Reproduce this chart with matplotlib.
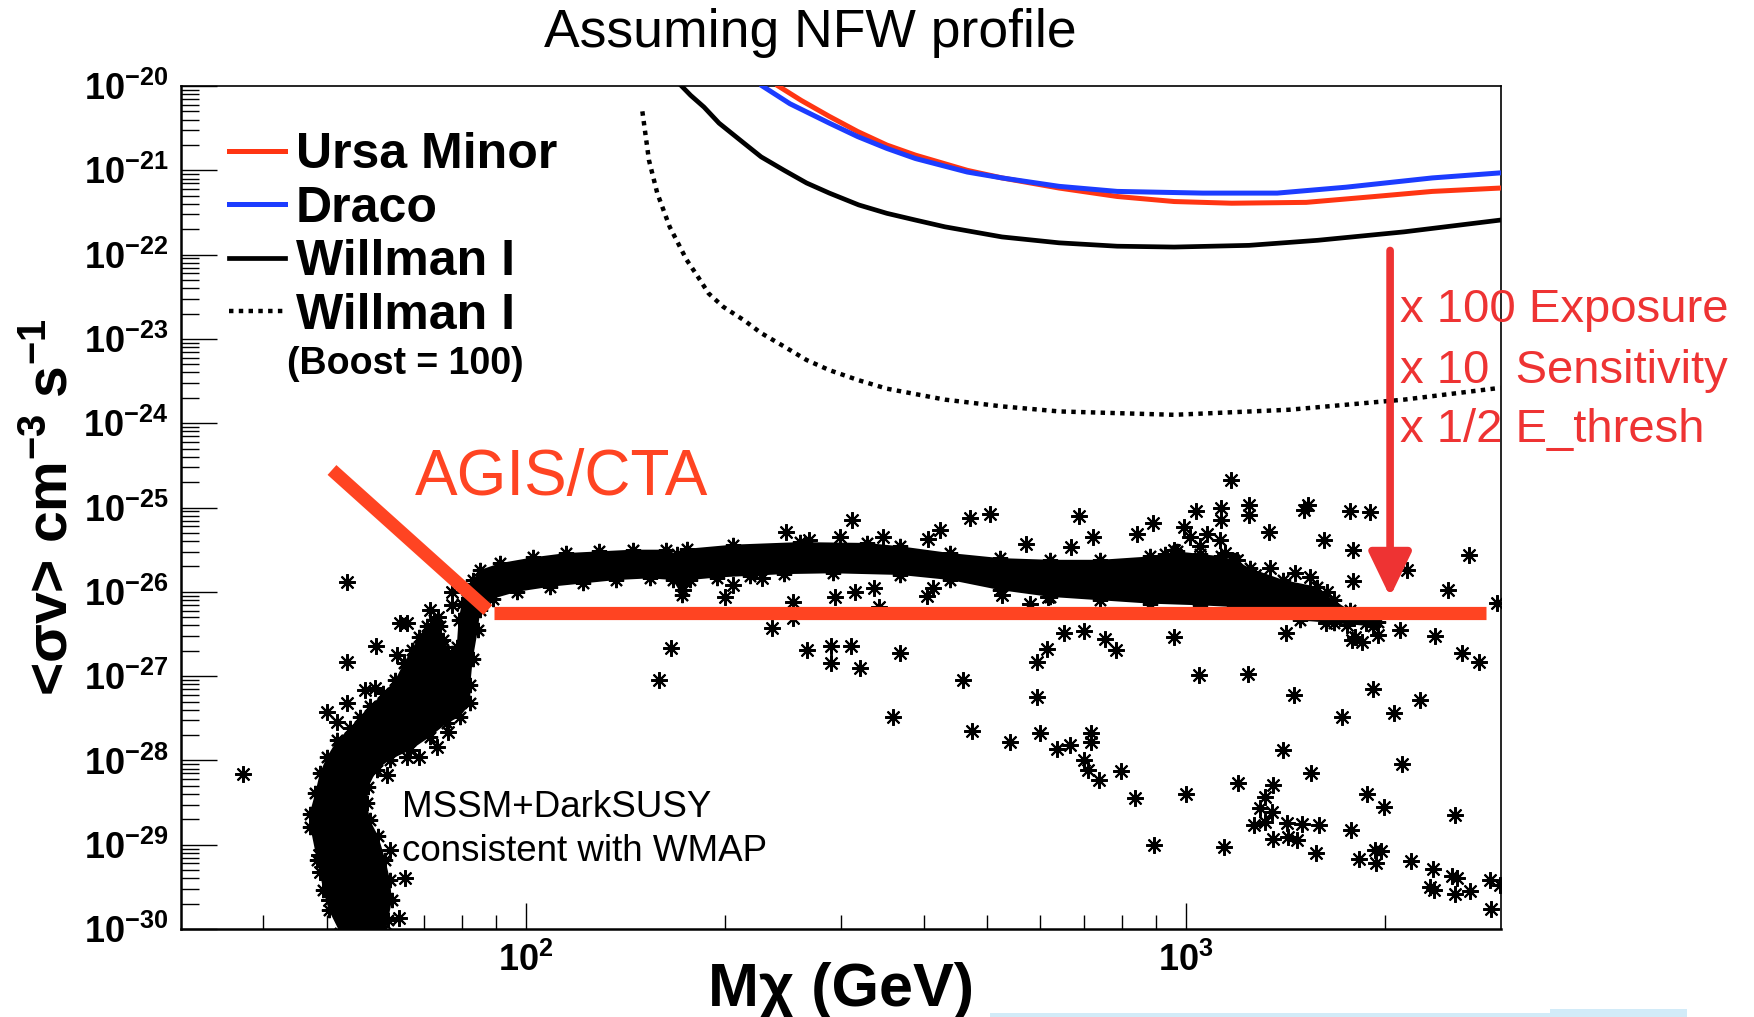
import numpy as np
import matplotlib
matplotlib.use("Agg")
import matplotlib.pyplot as plt
from matplotlib.ticker import NullFormatter
from matplotlib.patches import Rectangle

plt.rcParams['font.family'] = ['Liberation Sans', 'DejaVu Sans']
plt.rcParams['mathtext.fontset'] = 'custom'
plt.rcParams['mathtext.rm'] = 'Liberation Sans:bold'
plt.rcParams['mathtext.it'] = 'Liberation Sans:bold'
plt.rcParams['mathtext.bf'] = 'Liberation Sans:bold'
plt.rcParams['mathtext.default'] = 'bf'

# sensitivity curves: mass in GeV, log10 <sigma v> in cm^3 s^-1
ursa_mass = [241, 261, 288, 318, 352, 389, 466, 526, 642, 786, 959, 1172, 1520, 1933, 2360, 2993]
ursa_logsv = [-20.0, -20.17, -20.36, -20.54, -20.70, -20.82, -21.00, -21.09, -21.21, -21.31,
              -21.37, -21.39, -21.38, -21.31, -21.25, -21.21]
draco_mass = [228, 251, 288, 318, 352, 389, 466, 526, 642, 786, 1060, 1374, 1747, 2360, 2993]
draco_logsv = [-20.0, -20.21, -20.44, -20.60, -20.74, -20.86, -21.02, -21.09, -21.19, -21.25,
               -21.27, -21.27, -21.20, -21.09, -21.03]
willman_mass = [172, 177.5, 186, 196, 214, 227, 246, 266, 288, 319, 352, 389, 431, 526, 642,
                786, 959, 1245, 1582, 2138, 2993]
willman_logsv = [-20.0, -20.11, -20.25, -20.44, -20.68, -20.84, -21.00, -21.15, -21.27, -21.41,
                 -21.51, -21.59, -21.67, -21.79, -21.86, -21.90, -21.91, -21.89, -21.83, -21.73,
                 -21.59]
boost_mass = [150, 153.5, 158, 165, 175, 182, 189, 199, 214, 227, 246, 266, 288, 319, 352, 431,
              526, 642, 959, 1432, 2138, 2993]
boost_logsv = [-20.30, -20.88, -21.27, -21.67, -22.06, -22.26, -22.46, -22.62, -22.78, -22.93,
               -23.09, -23.25, -23.37, -23.49, -23.59, -23.72, -23.80, -23.86, -23.90, -23.84,
               -23.72, -23.58]

# AGIS/CTA projected reach
agis_diag_mass = [50.8, 87.5]
agis_diag_sv = [2.79e-25, 6.08e-27]
agis_flat_mass = [89.4, 2844]
agis_flat_sv = [5.65e-27, 5.65e-27]

# improvement arrow
arrow_mass = 2037
arrow_from = 1.12e-22
arrow_to = 8.7e-27

# outline of the dense MSSM+DarkSUSY region (mass GeV, log10 sv)
band_mass = [52.3, 50.2, 49.3, 48.2, 47.1, 47.0, 47.9, 48.7, 49.9, 51.7, 54.1, 56.0, 58.0, 60.8,
             63.3, 65.2, 67.1, 68.7, 70.7, 72.4, 74.1, 74.9, 77.2, 78.5, 79.0, 79.9, 81.3, 83.2,
             85.2, 91.3, 102.6, 115, 129, 145, 163, 169, 175, 206, 260, 328, 369, 439, 523, 622,
             741, 882, 930, 968, 1050, 1130, 1180, 1250, 1404, 1578, 1672, 1772, 1922, 1950,
             1922, 1672, 1489, 1325, 1180, 1050, 882, 741, 622, 523, 439, 369, 292, 245.5, 218.5,
             194.5, 177, 172, 167, 154, 137, 122, 108.7, 96.8, 89.2, 85.2,
             84.5, 83.0, 82.3, 82.3, 79.4, 75.8, 71.5, 66.7, 62.2, 59.4, 57.7, 57.4, 58.0, 59.7,
             61.2, 62.2, 62.6, 61.8, 61.2]
band_logsv = [-30.05, -29.77, -29.54, -29.18, -28.79, -28.63, -28.39, -28.15, -27.96, -27.76,
              -27.62, -27.48, -27.36, -27.20, -27.05, -26.85, -26.69, -26.53, -26.41, -26.33,
              -26.41, -26.57, -26.73, -26.65, -26.33, -26.14, -25.98, -25.86,
              -25.74, -25.66, -25.59, -25.54, -25.52, -25.50, -25.50, -25.55, -25.49, -25.44,
              -25.41, -25.42, -25.46, -25.54, -25.60, -25.62, -25.62, -25.58, -25.55, -25.52,
              -25.55, -25.58, -25.62, -25.72, -25.86, -25.94, -26.10, -26.22, -26.30, -26.36,
              -26.41, -26.37, -26.34, -26.22, -26.18, -26.16, -26.14, -26.10, -26.06, -25.98,
              -25.86, -25.80, -25.78, -25.79, -25.81, -25.83, -25.86, -26.04, -25.86, -25.84,
              -25.86, -25.90, -25.94, -26.00, -26.08, -26.22,
              -26.45, -26.80, -27.10, -27.32, -27.48, -27.56, -27.72, -27.88, -27.99, -28.11,
              -28.31, -28.51, -28.71, -28.90, -29.18, -29.42, -29.66, -29.89, -30.05]

# individual MSSM models outside the dense region (mass GeV, log10 sv)
mssm_mass = [37.2, 53.5, 53.5, 59.3, 63.7, 64.4, 65.9, 71.5, 73.6, 74.5, 77.2, 77.2, 49.9, 51.7,
             53.5, 57.0, 59.0, 65.9, 68.7, 73.2, 76.2, 61.5, 48.5, 48.7, 50.2, 62.2, 65.6, 64.1,
             159, 166, 173, 200, 206, 228, 236, 248, 254, 254, 266, 268, 290, 290, 294, 299, 311,
             311.5, 315, 320, 336, 342, 347, 359, 369, 405, 407, 414, 423, 459, 471, 473, 504,
             526, 572, 580, 594, 615, 618, 653, 669, 687, 699, 722, 754, 783, 842, 892, 957,
             1036, 1044, 1130, 1130, 1170, 1239, 1246, 1246, 1271, 1333, 1341, 1418, 1458, 1463,
             1506, 1532, 1541, 1619, 1629, 1634, 1752, 1768, 1782, 1789, 1789, 1800, 1846, 1870,
             1900, 1922, 1956, 2110, 2160, 2384, 2491, 2616, 2678, 2779, 2956,
             541, 594, 601, 638, 667, 699, 711, 717, 717, 739, 796, 836, 894, 999, 1142, 1200,
             1268, 1292, 1317, 1317, 1349, 1356, 1356, 1400, 1424, 1429, 1472, 1497, 1545, 1574,
             1592, 1722, 1776, 1825, 1878, 1934, 1939, 1972, 1995, 2062, 2122, 2190, 2257, 2343,
             2364, 2370, 2527, 2551, 2551, 2571, 2694, 2888, 2894, 2984,
             957, 991, 1014, 1050, 1075, 1126, 1146, 1194]
mssm_logsv = [-28.16, -25.88, -26.83, -26.64, -26.75, -26.37, -26.37, -26.22, -26.30, -26.65,
              -26.00, -26.16, -27.42, -27.54, -27.32, -27.17, -27.14, -27.96, -27.96, -27.84,
              -27.66, -28.17, -29.12, -29.32, -29.66, -29.06, -29.40, -29.87,
              -27.04, -26.67, -25.98, -26.06, -25.92, -25.84, -26.43, -25.29, -26.12, -26.31,
              -26.69, -25.39, -26.64, -26.85, -26.06, -25.35, -26.64, -25.15, -26.00, -26.90,
              -25.96, -26.18, -25.35, -27.48, -26.73, -26.05, -25.37, -25.96, -25.27, -27.05,
              -25.13, -27.65, -25.08, -26.04, -25.43, -26.14, -26.83, -26.68, -26.06, -26.49,
              -25.47, -25.10, -26.46, -25.35, -26.56, -26.69, -25.31, -25.18, -26.53,
              -25.04, -26.99, -25.01, -25.15, -24.67, -26.97, -24.97, -25.09, -25.80, -25.29,
              -25.72, -26.49, -27.22, -25.78, -25.03, -24.97, -25.82, -25.39, -26.37, -26.00,
              -26.39, -25.04, -26.57, -25.50, -25.87, -26.53, -26.59, -26.37, -25.05, -27.15,
              -26.51, -26.45, -25.74, -26.52, -25.98, -26.73, -25.56, -26.83, -26.13,
              -27.78, -27.25, -27.67, -27.86, -27.82, -28.00, -28.11, -27.67, -27.78, -28.23,
              -28.13, -28.44, -29.00, -28.40, -29.03, -28.27, -28.77, -28.57, -28.43, -28.73,
              -28.61, -28.29, -28.93, -27.88, -28.74, -28.91, -28.94, -28.75, -28.15, -29.10,
              -28.77, -27.48, -28.82, -29.17, -28.40, -29.06, -29.22, -29.08, -28.55, -27.44,
              -28.04, -29.19, -27.28, -29.50, -29.29, -29.54, -29.37, -28.65, -29.59, -29.40,
              -29.55, -29.42, -29.76, -29.48,
              -25.50, -25.23, -25.35, -25.46, -25.31, -25.39, -25.54, -25.62]

y_decades = list(range(-30, -19))

red = '#ff3512'
blue = '#1c3cff'
agis_red = '#ff4422'
note_red = '#ee3333'
star = (8, 2, 0)

fig = plt.figure(figsize=(17.54, 10.17), dpi=100)
ax = fig.add_axes([0.1032, 0.0865, 0.7526, 0.8289])

# MSSM scan
ax.fill(band_mass, 10.0 ** np.array(band_logsv), color='k', lw=0, zorder=2)
ax.plot(band_mass, 10.0 ** np.array(band_logsv), ls='none', marker=star, ms=11, mew=1.5,
        color='k', zorder=2)
ax.plot(mssm_mass, 10.0 ** np.array(mssm_logsv), ls='none', marker=star, ms=12, mew=1.5,
        color='k', zorder=2)

# limit curves
l_ursa, = ax.plot(ursa_mass, 10.0 ** np.array(ursa_logsv), color=red, lw=3.6, zorder=4,
                  label='Ursa Minor')
l_draco, = ax.plot(draco_mass, 10.0 ** np.array(draco_logsv), color=blue, lw=3.6, zorder=4,
                   label='Draco')
l_will, = ax.plot(willman_mass, 10.0 ** np.array(willman_logsv), color='k', lw=3.4, zorder=4,
                  label='Willman I')
l_boost, = ax.plot(boost_mass, 10.0 ** np.array(boost_logsv), color='k', lw=3.2,
                   ls=(0, (1, 1.2)), zorder=4, label='Willman I')

# AGIS/CTA
ax.plot(agis_diag_mass, agis_diag_sv, color=agis_red, lw=9.5, solid_capstyle='butt', zorder=5)
ax.plot(agis_flat_mass, agis_flat_sv, color=agis_red, lw=9.5, solid_capstyle='butt', zorder=5)
ax.text(0.1773, 0.5148, 'AGIS/CTA', transform=ax.transAxes, color=agis_red, fontsize=46,
        va='baseline', ha='left', zorder=6)

ax.annotate('', xy=(arrow_mass, arrow_to), xytext=(arrow_mass, arrow_from),
            arrowprops=dict(arrowstyle='-|>,head_length=27,head_width=13', color=note_red,
                            lw=5.5, shrinkA=0, shrinkB=0, mutation_scale=1), zorder=6)
notes = ['x 100 Exposure', 'x 10  Sensitivity', 'x 1/2 E_thresh']
for txt, yb in zip(notes, [0.7204, 0.6473, 0.5781]):
    ax.text(0.9235, yb, txt, transform=ax.transAxes, color=note_red, fontsize=34,
            va='baseline', ha='left', zorder=7)

ax.text(0.1674, 0.165, 'MSSM+DarkSUSY\nconsistent with WMAP', transform=ax.transAxes,
        fontsize=26.5, va='top', ha='left', linespacing=1.35, zorder=7)

# axes
ax.set_xscale('log')
ax.set_yscale('log')
ax.set_xlim(30, 3000)
ax.set_ylim(1e-30, 1e-20)
ax.set_xticks([100, 1000])
ax.set_xticklabels([r'$10^{2}$', r'$10^{3}$'])
ax.set_xticks([40, 50, 60, 70, 80, 90, 200, 300, 400, 500, 600, 700, 800, 900, 2000], minor=True)
ax.xaxis.set_minor_formatter(NullFormatter())
ax.set_yticks([10.0 ** e for e in y_decades])
ax.set_yticklabels([r'$10^{%d}$' % e for e in y_decades])
ax.set_yticks([k * 10.0 ** e for e in y_decades[:-1] for k in range(2, 10)], minor=True)
ax.yaxis.set_minor_formatter(NullFormatter())
ax.tick_params(which='both', direction='in', top=False, right=False, width=1.0,
               labelsize=26, colors='k')
ax.tick_params(axis='y', which='major', length=26, pad=9)
ax.tick_params(axis='y', which='minor', length=13)
ax.tick_params(axis='x', which='major', length=19, pad=10)
ax.tick_params(axis='x', which='minor', length=10)
for s in ['left', 'bottom']:
    ax.spines[s].set_linewidth(1.8)
for s in ['top', 'right']:
    ax.spines[s].set_linewidth(1.2)

ax.set_xlabel('Mχ (GeV)', fontsize=44, fontweight='bold')
ax.xaxis.set_label_coords(0.5, -0.039)
ax.set_ylabel(r'<σv> cm$^{-3}$ s$^{-1}$', fontsize=41, fontweight='bold')
ax.yaxis.set_label_coords(-0.077, 0.5)

leg = ax.legend(handles=[l_ursa, l_draco, l_will, l_boost], loc='upper left',
                bbox_to_anchor=(0.0364, 0.945), frameon=False, borderpad=0, borderaxespad=0,
                handlelength=1.12, handletextpad=0.22, labelspacing=0.15,
                prop={'size': 36, 'weight': 'bold'})
ax.text(0.1697, 0.670, '(Boost = 100)', transform=ax.transAxes, fontsize=27,
        fontweight='bold', ha='center', va='center')

fig.text(810 / 1754, 0.9538, 'Assuming NFW profile', fontsize=38.5, ha='center', va='baseline')

# slide artefact along the bottom edge
fig.add_artist(Rectangle((990 / 1754, 0), 697 / 1754, 4 / 1017, transform=fig.transFigure,
                         color='#d2ebf8', lw=0))
fig.add_artist(Rectangle((1550 / 1754, 0), 137 / 1754, 8 / 1017, transform=fig.transFigure,
                         color='#d2ebf8', lw=0))

fig.savefig('out.png', dpi=100)
